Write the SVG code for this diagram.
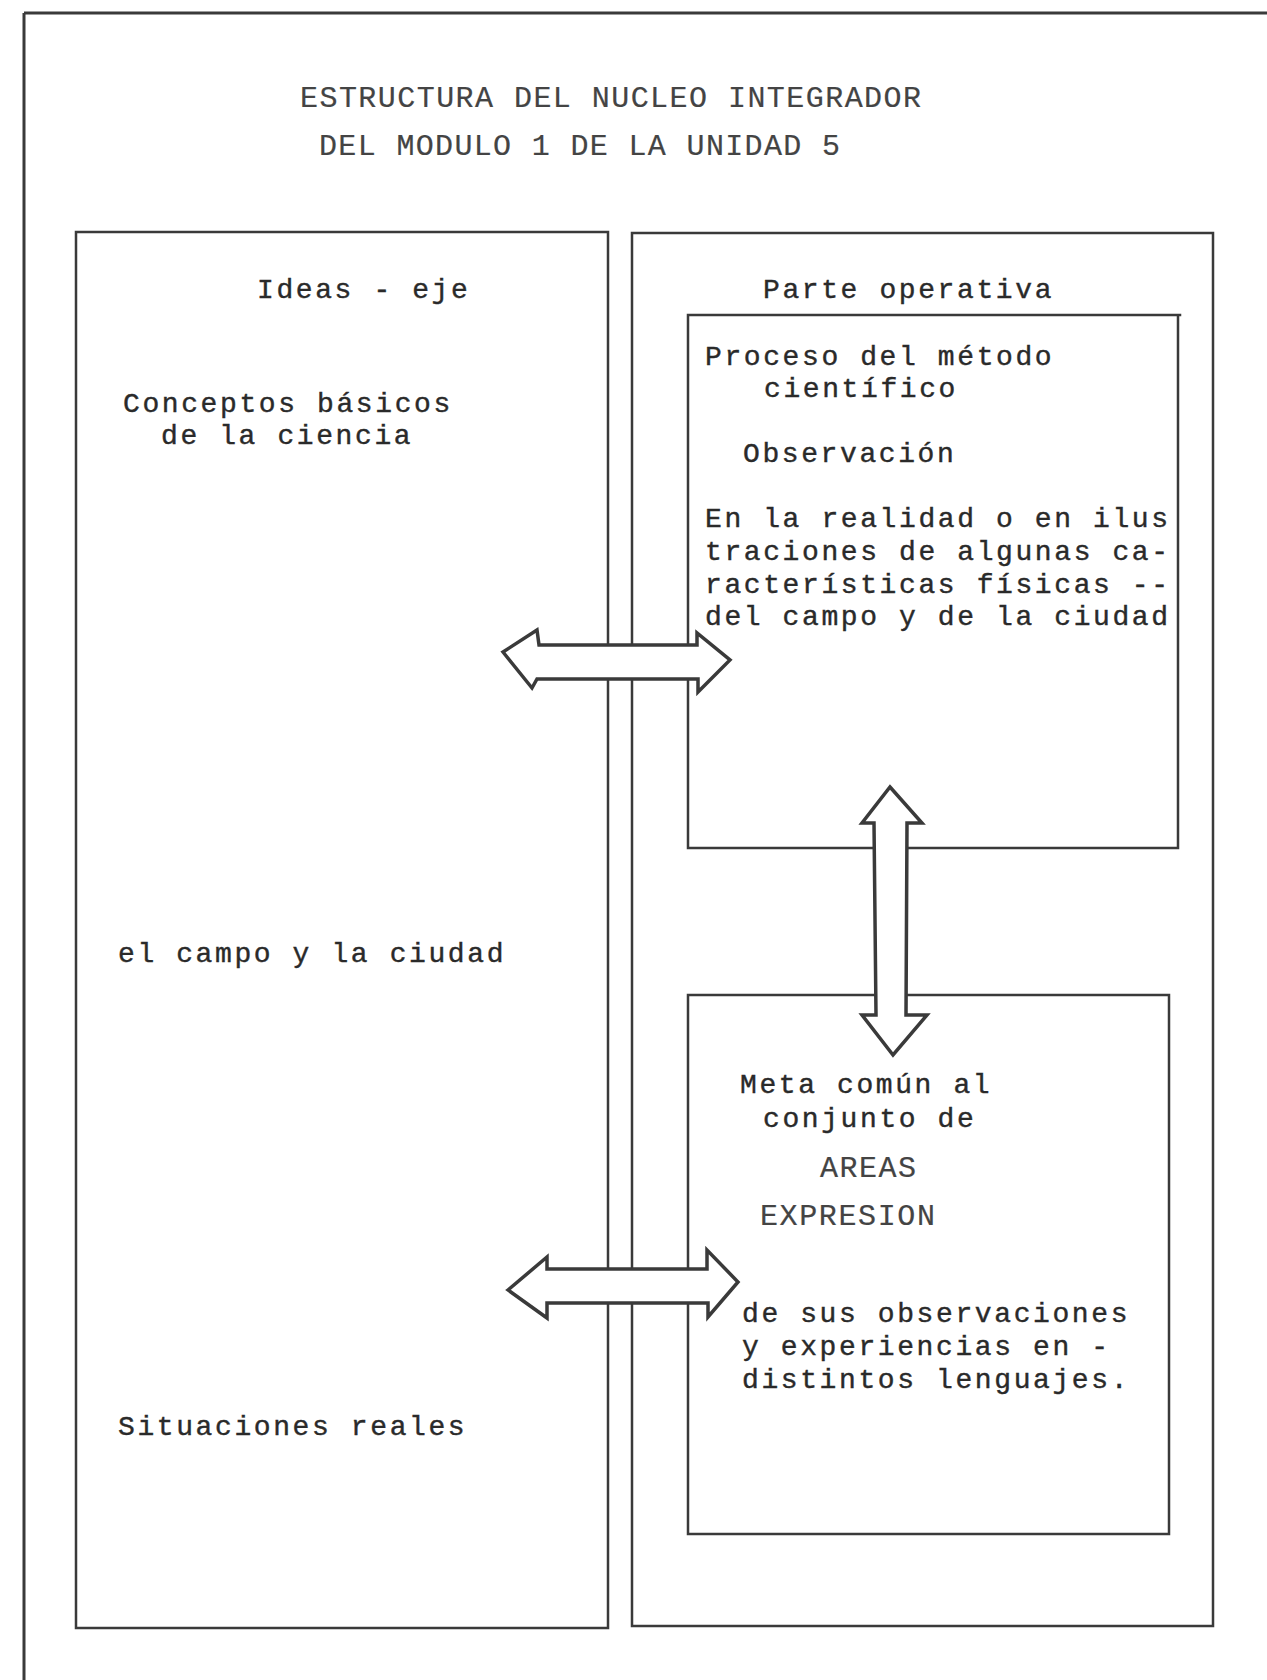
<svg xmlns="http://www.w3.org/2000/svg" width="1267" height="1680" viewBox="0 0 1267 1680">
<style>
.ln{fill:none;stroke:#3a3a3a;stroke-width:2.5;stroke-linecap:square}
.fr{fill:none;stroke:#3a3a3a;stroke-width:3}
.arr{fill:#fff;stroke:#3a3a3a;stroke-width:3.5;stroke-linejoin:miter}
.t{font-family:"Liberation Mono","Courier New",monospace;font-size:28px;letter-spacing:2.6px;fill:#2a2a2a;stroke:#2a2a2a;stroke-width:0.4}
.h{font-family:"Liberation Mono","Courier New",monospace;font-size:30px;fill:#444;stroke:#444;stroke-width:0.2}
</style>
<rect width="1267" height="1680" fill="#fff"/>
<g id="frame">
<path class="fr" d="M24,13 H1267 M24,13 V1680"/>
</g>
<g id="title">
<text class="h" x="300" y="107" textLength="621" lengthAdjust="spacing">ESTRUCTURA DEL NUCLEO INTEGRADOR</text>
<text class="h" x="319" y="155" textLength="521" lengthAdjust="spacing">DEL MODULO 1 DE LA UNIDAD 5</text>
</g>
<g id="ideas-eje">
<rect class="ln" x="76" y="232" width="532" height="1396"/>
<text class="t" x="257" y="298">Ideas - eje</text>
<text class="t" x="123" y="412">Conceptos básicos</text>
<text class="t" x="161" y="444">de la ciencia</text>
<text class="t" x="118" y="962">el campo y la ciudad</text>
<text class="t" x="118" y="1435">Situaciones reales</text>
</g>
<g id="parte-operativa">
<rect class="ln" x="632" y="233" width="581" height="1393"/>
<text class="t" x="763" y="298">Parte operativa</text>
</g>
<g id="proceso">
<path class="ln" d="M688,315 H1180 M1178,315 V848 H688 V315"/>
<text class="t" x="705" y="365">Proceso del método</text>
<text class="t" x="764" y="397">científico</text>
<text class="t" x="743" y="462">Observación</text>
<text class="t" x="705" y="527">En la realidad o en ilus</text>
<text class="t" x="705" y="560">traciones de algunas ca-</text>
<text class="t" x="705" y="593">racterísticas físicas --</text>
<text class="t" x="705" y="625">del campo y de la ciudad</text>
</g>
<g id="meta">
<rect class="ln" x="688" y="995" width="481" height="539"/>
<text class="t" x="740" y="1093">Meta común al</text>
<text class="t" x="763" y="1127">conjunto de</text>
<text class="h" x="820" y="1177" textLength="96" lengthAdjust="spacing">AREAS</text>
<text class="h" x="760" y="1225" textLength="175" lengthAdjust="spacing">EXPRESION</text>
<text class="t" x="742" y="1322">de sus observaciones</text>
<text class="t" x="742" y="1355">y experiencias en  -</text>
<text class="t" x="742" y="1388">distintos lenguajes.</text>
</g>
<g id="connectors">
<polygon class="arr" points="503,652 537,630 539,645 697,645 697,633 730,660 698,692 698,679 537,679 532,688"/>
<polygon class="arr" points="508,1290 547,1257 547,1269 707,1269 707,1250 738,1282 708,1317 708,1303 547,1303 547,1318"/>
<polygon class="arr" points="890,787 922,823 907,823 906,1015 927,1015 893,1055 862,1015 876,1015 874,823 862,823"/>
</g>
</svg>
